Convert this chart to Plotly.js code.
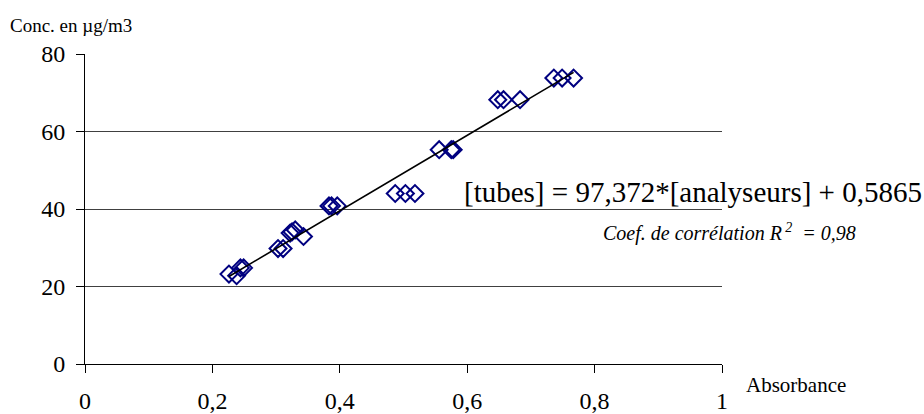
<!DOCTYPE html>
<html>
<head>
<meta charset="utf-8">
<script src="https://cdn.plot.ly/plotly-3.0.1.min.js"></script>
<style>
html,body{margin:0;padding:0;background:#fff}
</style>
</head>
<body>
<div id="chart" style="width:924px;height:414px"></div>
<script>
// Absorbance (x) and concentration (y) of the measured points
var absorbance = [0.226, 0.238, 0.244, 0.249,
                  0.303, 0.311,
                  0.322, 0.325, 0.330, 0.343,
                  0.383, 0.387, 0.396,
                  0.487, 0.503, 0.518,
                  0.556, 0.575, 0.578,
                  0.648, 0.657, 0.683,
                  0.736, 0.749, 0.767];
var concentration = [23.2, 22.8, 24.8, 24.8,
                     29.8, 29.8,
                     33.8, 34.1, 34.6, 32.9,
                     40.8, 40.8, 40.8,
                     44.0, 44.0, 44.0,
                     55.3, 55.3, 55.3,
                     68.2, 68.2, 68.2,
                     73.8, 73.8, 73.8];
// regression: [tubes] = slope*[analyseurs] + intercept
var slope = 97.372;
var intercept = 0.5865;
var xTickVals = [0, 0.2, 0.4, 0.6, 0.8, 1];
var xTickText = ['0', '0,2', '0,4', '0,6', '0,8', '1'];
var yTickVals = [0, 20, 40, 60, 80];
var yTickText = ['0', '20', '40', '60', '80'];

var xmin = Math.min.apply(null, absorbance);
var xmax = Math.max.apply(null, absorbance);
var lineX = [xmin, xmax];
var lineY = lineX.map(function (v) { return slope * v + intercept; });

var serif = 'Liberation Serif, Times New Roman, serif';

var traces = [
  {
    x: absorbance, y: concentration, type: 'scatter', mode: 'markers',
    marker: {symbol: 'diamond-open', size: 13, color: '#000080', line: {width: 2, color: '#000080'}},
    hoverinfo: 'x+y', showlegend: false
  },
  {
    x: lineX, y: lineY, type: 'scatter', mode: 'lines',
    line: {color: '#000000', width: 1.6}, hoverinfo: 'skip', showlegend: false
  }
];

var layout = {
  width: 924, height: 414,
  margin: {l: 85, r: 202, t: 54, b: 50},
  paper_bgcolor: '#ffffff', plot_bgcolor: '#ffffff',
  font: {family: serif, color: '#000000', size: 22},
  showlegend: false,
  xaxis: {
    range: [0, 1], tickmode: 'array', tickvals: xTickVals, ticktext: xTickText,
    showgrid: false, zeroline: false, showline: true, linecolor: '#000', linewidth: 1,
    ticks: 'outside', ticklen: 8, tickcolor: '#000', tickwidth: 1,
    tickfont: {family: serif, size: 24, color: '#000'}, ticklabelstandoff: 7,
    fixedrange: true
  },
  yaxis: {
    range: [0, 80], tickmode: 'array', tickvals: yTickVals, ticktext: yTickText,
    showgrid: true, gridcolor: '#404040', gridwidth: 1,
    zeroline: false, showline: true, linecolor: '#000', linewidth: 1,
    ticks: 'outside', ticklen: 8, tickcolor: '#000', tickwidth: 1,
    tickfont: {family: serif, size: 24, color: '#000'}, ticklabelstandoff: 6,
    fixedrange: true
  },
  annotations: [
    {text: 'Conc. en µg/m3', xref: 'paper', yref: 'paper', x: 0, xshift: -77, y: 1.0, yshift: 29,
     xanchor: 'left', yanchor: 'middle', showarrow: false, font: {family: serif, size: 19, color: '#000'}},
    {text: 'Absorbance', xref: 'paper', yref: 'paper', x: 1.0, xshift: 22, y: 0, yshift: -21,
     xanchor: 'left', yanchor: 'middle', showarrow: false, font: {family: serif, size: 21, color: '#000'}},
    {text: '[tubes] = 97,372*[analyseurs] + 0,5865', xref: 'paper', yref: 'paper',
     x: 1.0, xshift: 202, y: 0, yshift: 364 - 192, xanchor: 'right', yanchor: 'middle',
     showarrow: false, font: {family: serif, size: 29, color: '#000'}},
    {text: '<i>Coef. de corrélation R<sup> 2</sup>  = 0,98</i>', xref: 'paper', yref: 'paper',
     x: 1.0, xshift: 136, y: 0, yshift: 364 - 232, xanchor: 'right', yanchor: 'middle',
     showarrow: false, font: {family: serif, size: 20, color: '#000'}}
  ]
};

Plotly.newPlot('chart', traces, layout, {displayModeBar: false, staticPlot: true});
</script>
</body>
</html>
